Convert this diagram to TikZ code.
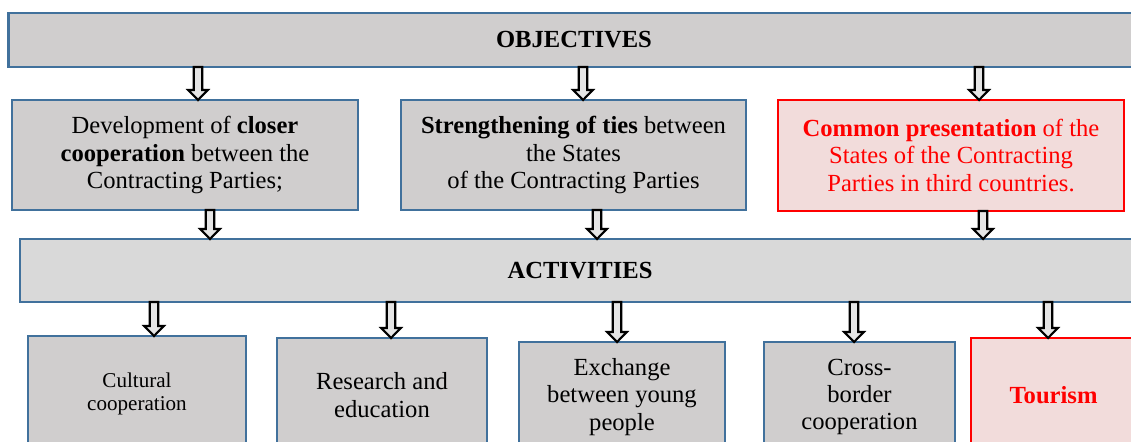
\documentclass[tikz,border=0pt]{standalone}
\usepackage{fontspec}
\setmainfont{Liberation Serif}
\usetikzlibrary{calc}
\definecolor{boxblue}{HTML}{41719C}
\definecolor{boxgray}{HTML}{D0CECE}
\definecolor{bargray}{HTML}{D9D9D9}
\definecolor{boxpink}{HTML}{F2DCDB}
\definecolor{boxred}{HTML}{FF0000}
\def\pxu{0.02cm}
\begin{document}
\begin{tikzpicture}[x=\pxu, y=-\pxu, font=\fontsize{14}{15.5}\selectfont,
          card/.style={draw=boxblue, line width=1.4pt, fill=boxgray, align=center, inner sep=2pt, outer sep=0pt},
          bar/.style={card, fill=bargray, font=\fontsize{14}{15.5}\selectfont\bfseries},
          hot/.style={card, draw=boxred, fill=boxpink, text=boxred},
          blk/.style={draw, line width=1.2pt, fill=gray!20, to path={let \p1=(\tikztostart), \p2=(\tikztotarget) in
            (\x1-2.4pt,\y1) -- (\x1-2.4pt,\y2+5.7pt) -- (\x1-5.6pt,\y2+5.7pt) -- (\x1,\y2)
            -- (\x1+5.6pt,\y2+5.7pt) -- (\x1+2.4pt,\y2+5.7pt) -- (\x1+2.4pt,\y1) -- cycle}}]
        \useasboundingbox (0,0) rectangle (1131,441);
        \clip (0,0) rectangle (1131,441);
        \node[bar, fill=boxgray, minimum width=1131*\pxu, minimum height=54*\pxu] (obj) at (574,40) {OBJECTIVES};
        \node[card, minimum width=346*\pxu, minimum height=110*\pxu] (b1) at (185,155) {Development of \textbf{closer}\\\textbf{cooperation} between the\\Contracting Parties;};
        \node[card, minimum width=345*\pxu, minimum height=110*\pxu] (b2) at (573.5,155) {\textbf{Strengthening of ties} between\\the States\\of the Contracting Parties};
        \node[hot, minimum width=346*\pxu, minimum height=111*\pxu] (b3) at (951,155.5) {\textbf{Common presentation} of the\\States of the Contracting\\Parties in third countries.};
        \node[bar, minimum width=1120*\pxu, minimum height=63*\pxu] (act) at (580,270.5) {ACTIVITIES};
        \node[card, minimum width=218*\pxu, minimum height=116*\pxu, font=\fontsize{12}{13.5}\selectfont] (c1) at (137,394) {Cultural\\cooperation};
        \node[card, minimum width=210*\pxu, minimum height=114*\pxu] (c2) at (382,395) {Research and\\education};
        \node[card, minimum width=206*\pxu, minimum height=110*\pxu] (c3) at (622,397) {Exchange\\between young\\people};
        \node[card, minimum width=191*\pxu, minimum height=110*\pxu] (c4) at (859.5,397) {Cross-\\border\\cooperation};
        \node[hot, minimum width=165*\pxu, minimum height=114*\pxu, font=\fontsize{14}{15.5}\selectfont\bfseries] (c5) at (1053.5,395) {Tourism};
        \foreach \ax/\tg in {198/b1, 583/b2, 979/b3}
          \draw[blk] (\ax,0 |- obj.south) to (\ax,0 |- \tg.north);
        \foreach \ax/\tg in {210/b1, 597/b2, 983/b3}
          \draw[blk] (\ax,0 |- \tg.south) to (\ax,0 |- act.north);
        \foreach \ax/\tg in {154/c1, 391/c2, 617/c3, 854/c4, 1048/c5}
          \draw[blk] (\ax,0 |- act.south) to (\ax,0 |- \tg.north);
      \end{tikzpicture}
\end{document}
